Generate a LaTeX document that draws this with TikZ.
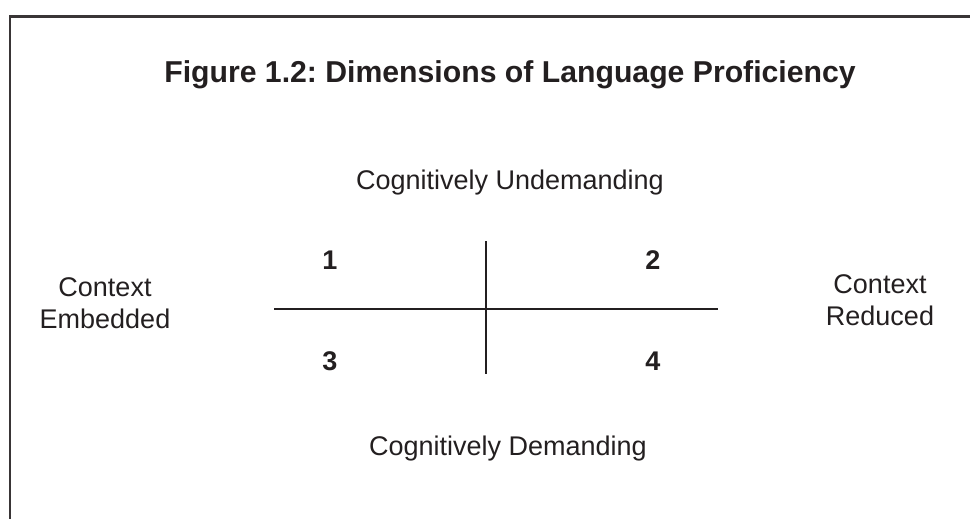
\documentclass[tikz,border=0pt]{standalone}
\usepackage{fontspec}
\setmainfont{Liberation Sans}
\frenchspacing
\definecolor{ink}{HTML}{231F20}
\begin{document}
\begin{tikzpicture}[x=1pt,y=-1pt,
  lbl/.style={inner sep=0pt,anchor=base,text=ink,font=\fontsize{27}{32}\selectfont},
  ttl/.style={inner sep=0pt,anchor=base,text=ink,font=\fontsize{30.2}{36}\selectfont\bfseries},
  num/.style={inner sep=0pt,anchor=base,text=ink,font=\fontsize{27}{32}\selectfont\bfseries},
  axis/.style={draw=ink,line width=2pt}]
\useasboundingbox (0,0) rectangle (970,519);
\draw[draw=ink!90,line width=2.2pt] (10,530) -- (10,16.5) -- (980,16.5);
\node[ttl] (title) at (510,82) {Figure 1.2: Dimensions of Language Proficiency};
\node[lbl] (cu) at (510,189) {Cognitively Undemanding};
\node[lbl] (cd) at (508,455) {Cognitively Demanding};
\node[lbl] (ce1) at (105,296) {Context};
\node[lbl] (ce2) at (105,328) {Embedded};
\node[lbl] (cr1) at (880,293) {Context};
\node[lbl] (cr2) at (880,325) {Reduced};
\node[num] (n1) at (330,269) {1};
\node[num] (n2) at (653,269) {2};
\node[num] (n3) at (330,370) {3};
\node[num] (n4) at (653,370) {4};
\coordinate (hl) at (274,308.7);
\coordinate (hr) at (718,308.7);
\coordinate (vt) at (486,241);
\coordinate (vb) at (486,374);
\draw[axis] (hl) -- (hr);
\draw[axis] (vt) -- (vb);
\end{tikzpicture}
\end{document}
